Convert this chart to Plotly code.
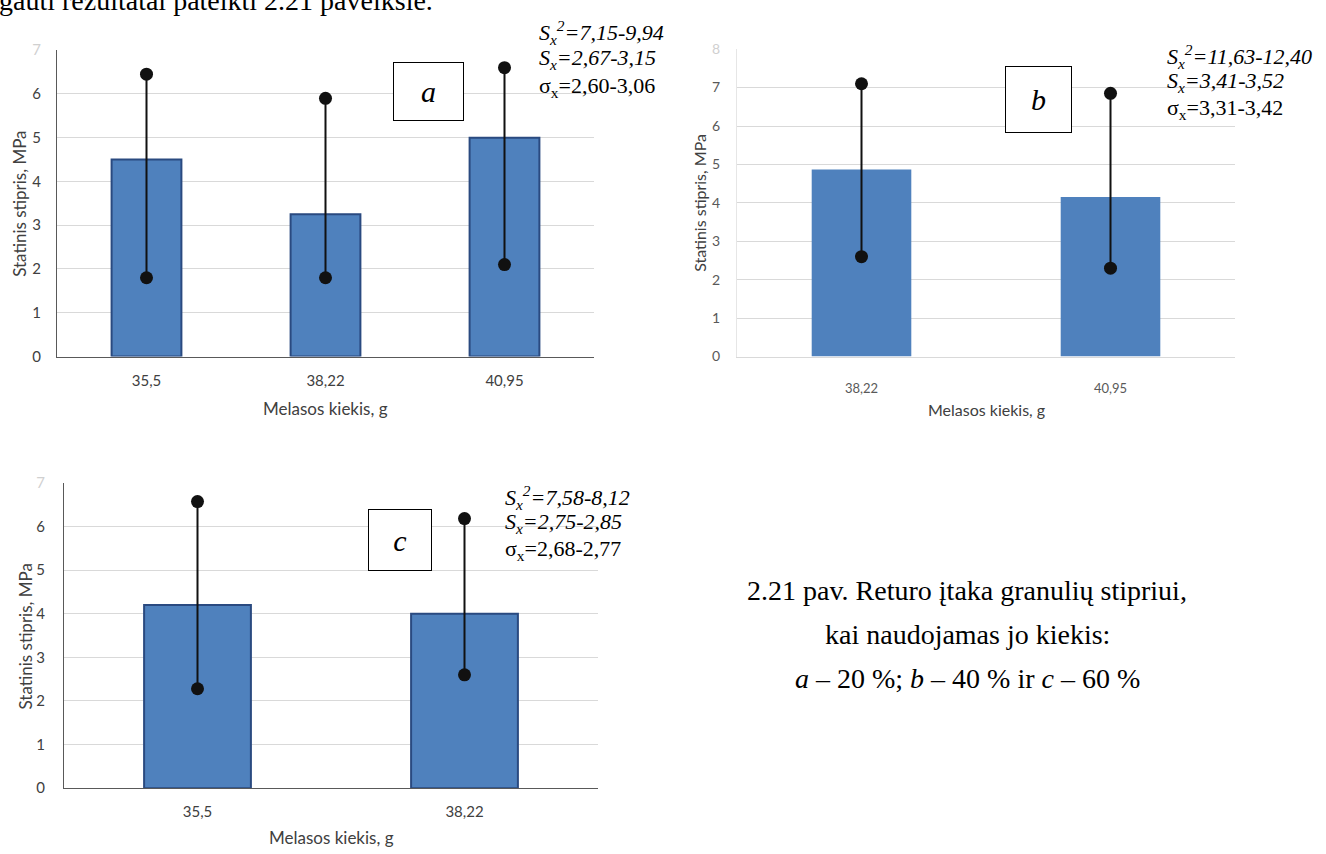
import plotly.graph_objects as go

W, H = 1326, 854


def px(x):
    return x / W


def py(y):
    return 1 - y / H


# Panel a: 20 % returo
cat_a = ["35,5", "38,22", "40,95"]
mean_a = [4.5, 3.25, 5.0]
low_a = [1.8, 1.8, 2.1]
high_a = [6.45, 5.9, 6.6]

# Panel b: 40 % returo
cat_b = ["38,22", "40,95"]
mean_b = [4.87, 4.15]
low_b = [2.6, 2.3]
high_b = [7.1, 6.85]

# Panel c: 60 % returo
cat_c = ["35,5", "38,22"]
mean_c = [4.2, 4.0]
low_c = [2.28, 2.6]
high_c = [6.57, 6.18]

stats_a = ["<i>S<sub>x</sub><sup>2</sup>=7,15-9,94</i>", "<i>S<sub>x</sub>=2,67-3,15</i>", "σ<sub>x</sub>=2,60-3,06"]
stats_b = ["<i>S<sub>x</sub><sup>2</sup>=11,63-12,40</i>", "<i>S<sub>x</sub>=3,41-3,52</i>", "σ<sub>x</sub>=3,31-3,42"]
stats_c = ["<i>S<sub>x</sub><sup>2</sup>=7,58-8,12</i>", "<i>S<sub>x</sub>=2,75-2,85</i>", "σ<sub>x</sub>=2,68-2,77"]

BLUE = "#4F81BD"
EDGE = "#2A4A80"
SANS = "Lato, Open Sans, sans-serif"
SERIF = "Liberation Serif, Times New Roman, serif"

fig = go.Figure()


def add_panel(cats, means, lows, highs, xa, ya, width, edge):
    fig.add_trace(go.Bar(
        x=cats, y=means, width=width, xaxis=xa, yaxis=ya,
        marker=dict(color=BLUE, line=dict(color=edge or BLUE, width=2 if edge else 0)),
        hoverinfo="skip"))
    xs, ys = [], []
    for c, lo, hi in zip(cats, lows, highs):
        xs += [c, c, None]
        ys += [lo, hi, None]
    fig.add_trace(go.Scatter(
        x=xs, y=ys, xaxis=xa, yaxis=ya, mode="lines+markers",
        line=dict(color="#111111", width=2),
        marker=dict(color="#111111", size=13),
        hoverinfo="skip"))


add_panel(cat_a, mean_a, low_a, high_a, "x", "y", 0.39, EDGE)
add_panel(cat_b, mean_b, low_b, high_b, "x2", "y2", 0.40, None)
add_panel(cat_c, mean_c, low_c, high_c, "x3", "y3", 0.40, EDGE)


def yticks(top):
    vals = list(range(top + 1))
    txt = [str(v) for v in vals]
    txt[-1] = '<span style="color:#d0d0d0">%d</span>' % top
    return vals, txt


def xaxis_cfg(x0, x1, anchor, linecolor, size, color, standoff):
    return dict(domain=[px(x0), px(x1)], anchor=anchor, type="category",
                showline=True, linecolor=linecolor, linewidth=1,
                showgrid=False, ticks="", fixedrange=True,
                tickfont=dict(family=SANS, size=size, color=color),
                ticklabelstandoff=standoff)


def yaxis_cfg(y_top, y_bot, anchor, top, linecolor, size, color, standoff):
    vals, txt = yticks(top)
    return dict(domain=[py(y_bot), py(y_top)], anchor=anchor, range=[0, top],
                tickvals=vals, ticktext=txt, showline=True, linecolor=linecolor,
                linewidth=1, showgrid=True, gridcolor="#d9d9d9", gridwidth=1,
                zeroline=False, ticks="", fixedrange=True,
                tickfont=dict(family=SANS, size=size, color=color),
                ticklabelstandoff=standoff)


fig.update_layout(
    width=W, height=H, margin=dict(l=0, r=0, t=0, b=0),
    paper_bgcolor="white", plot_bgcolor="white", showlegend=False,
    xaxis=xaxis_cfg(57, 594, "y", "#595959", 15, "#404040", 10),
    yaxis=yaxis_cfg(41, 354, "x", 7, "#595959", 15, "#404040", 12),
    xaxis2=xaxis_cfg(737, 1235, "y2", "#d9d9d9", 13, "#595959", 20),
    yaxis2=yaxis_cfg(40, 354, "x2", 8, "#e6e6e6", 14, "#595959", 13),
    xaxis3=xaxis_cfg(64, 598, "y3", "#595959", 15, "#404040", 10),
    yaxis3=yaxis_cfg(483, 795, "x3", 7, "#595959", 15, "#404040", 15),
)

ann = []


def note(text, x, y, size, family=SERIF, color="#000000", xanchor="center", angle=0, **kw):
    ann.append(dict(text=text, x=px(x), y=py(y), xref="paper", yref="paper",
                    xanchor=xanchor, yanchor="middle", showarrow=False,
                    textangle=angle, font=dict(family=family, size=size, color=color), **kw))


# axis titles
note("Statinis stipris, MPa", 20, 198, 17, SANS, "#404040", angle=-90)
note("Melasos kiekis, g", 325, 407, 17, SANS, "#404040")
note("Statinis stipris, MPa", 700, 197, 16, SANS, "#404040", angle=-90)
note("Melasos kiekis, g", 986, 408, 16, SANS, "#404040")
note("Statinis stipris, MPa", 26, 640, 17, SANS, "#404040", angle=-90)
note("Melasos kiekis, g", 331, 845, 17, SANS, "#404040")

# boxed panel letters
for letter, cx, cy, w, h in [("a", 428.5, 83.5, 69, 57), ("b", 1038.5, 91.5, 65, 65), ("c", 400, 541, 62, 60)]:
    note("<i>%s</i>" % letter, cx, cy, 30, bordercolor="#000000", borderwidth=1,
         borderpad=0, bgcolor="white", width=w, height=h)

# statistics beside each panel
for lines, x0, ys in [(stats_a, 537, [23, 50, 79]), (stats_b, 1165, [47, 74, 101]), (stats_c, 503, [498, 524, 552])]:
    for t, y in zip(lines, ys):
        note(t, x0, y, 22, xanchor="left")

# caption
note("2.21 pav. Returo įtaka granulių stipriui,", 967, 593, 28)
note("kai naudojamas jo kiekis:", 967, 638, 28)
note("<i>a</i> – 20 %; <i>b</i> – 40 % ir <i>c</i> – 60 %", 967, 683, 28)

# running text line above the figure (only its lower part falls on the page)
note("gauti rezultatai pateikti 2.21 paveiksle.", -3, -10, 28, xanchor="left")

fig.update_layout(annotations=ann)
fig.write_html("out.html")
